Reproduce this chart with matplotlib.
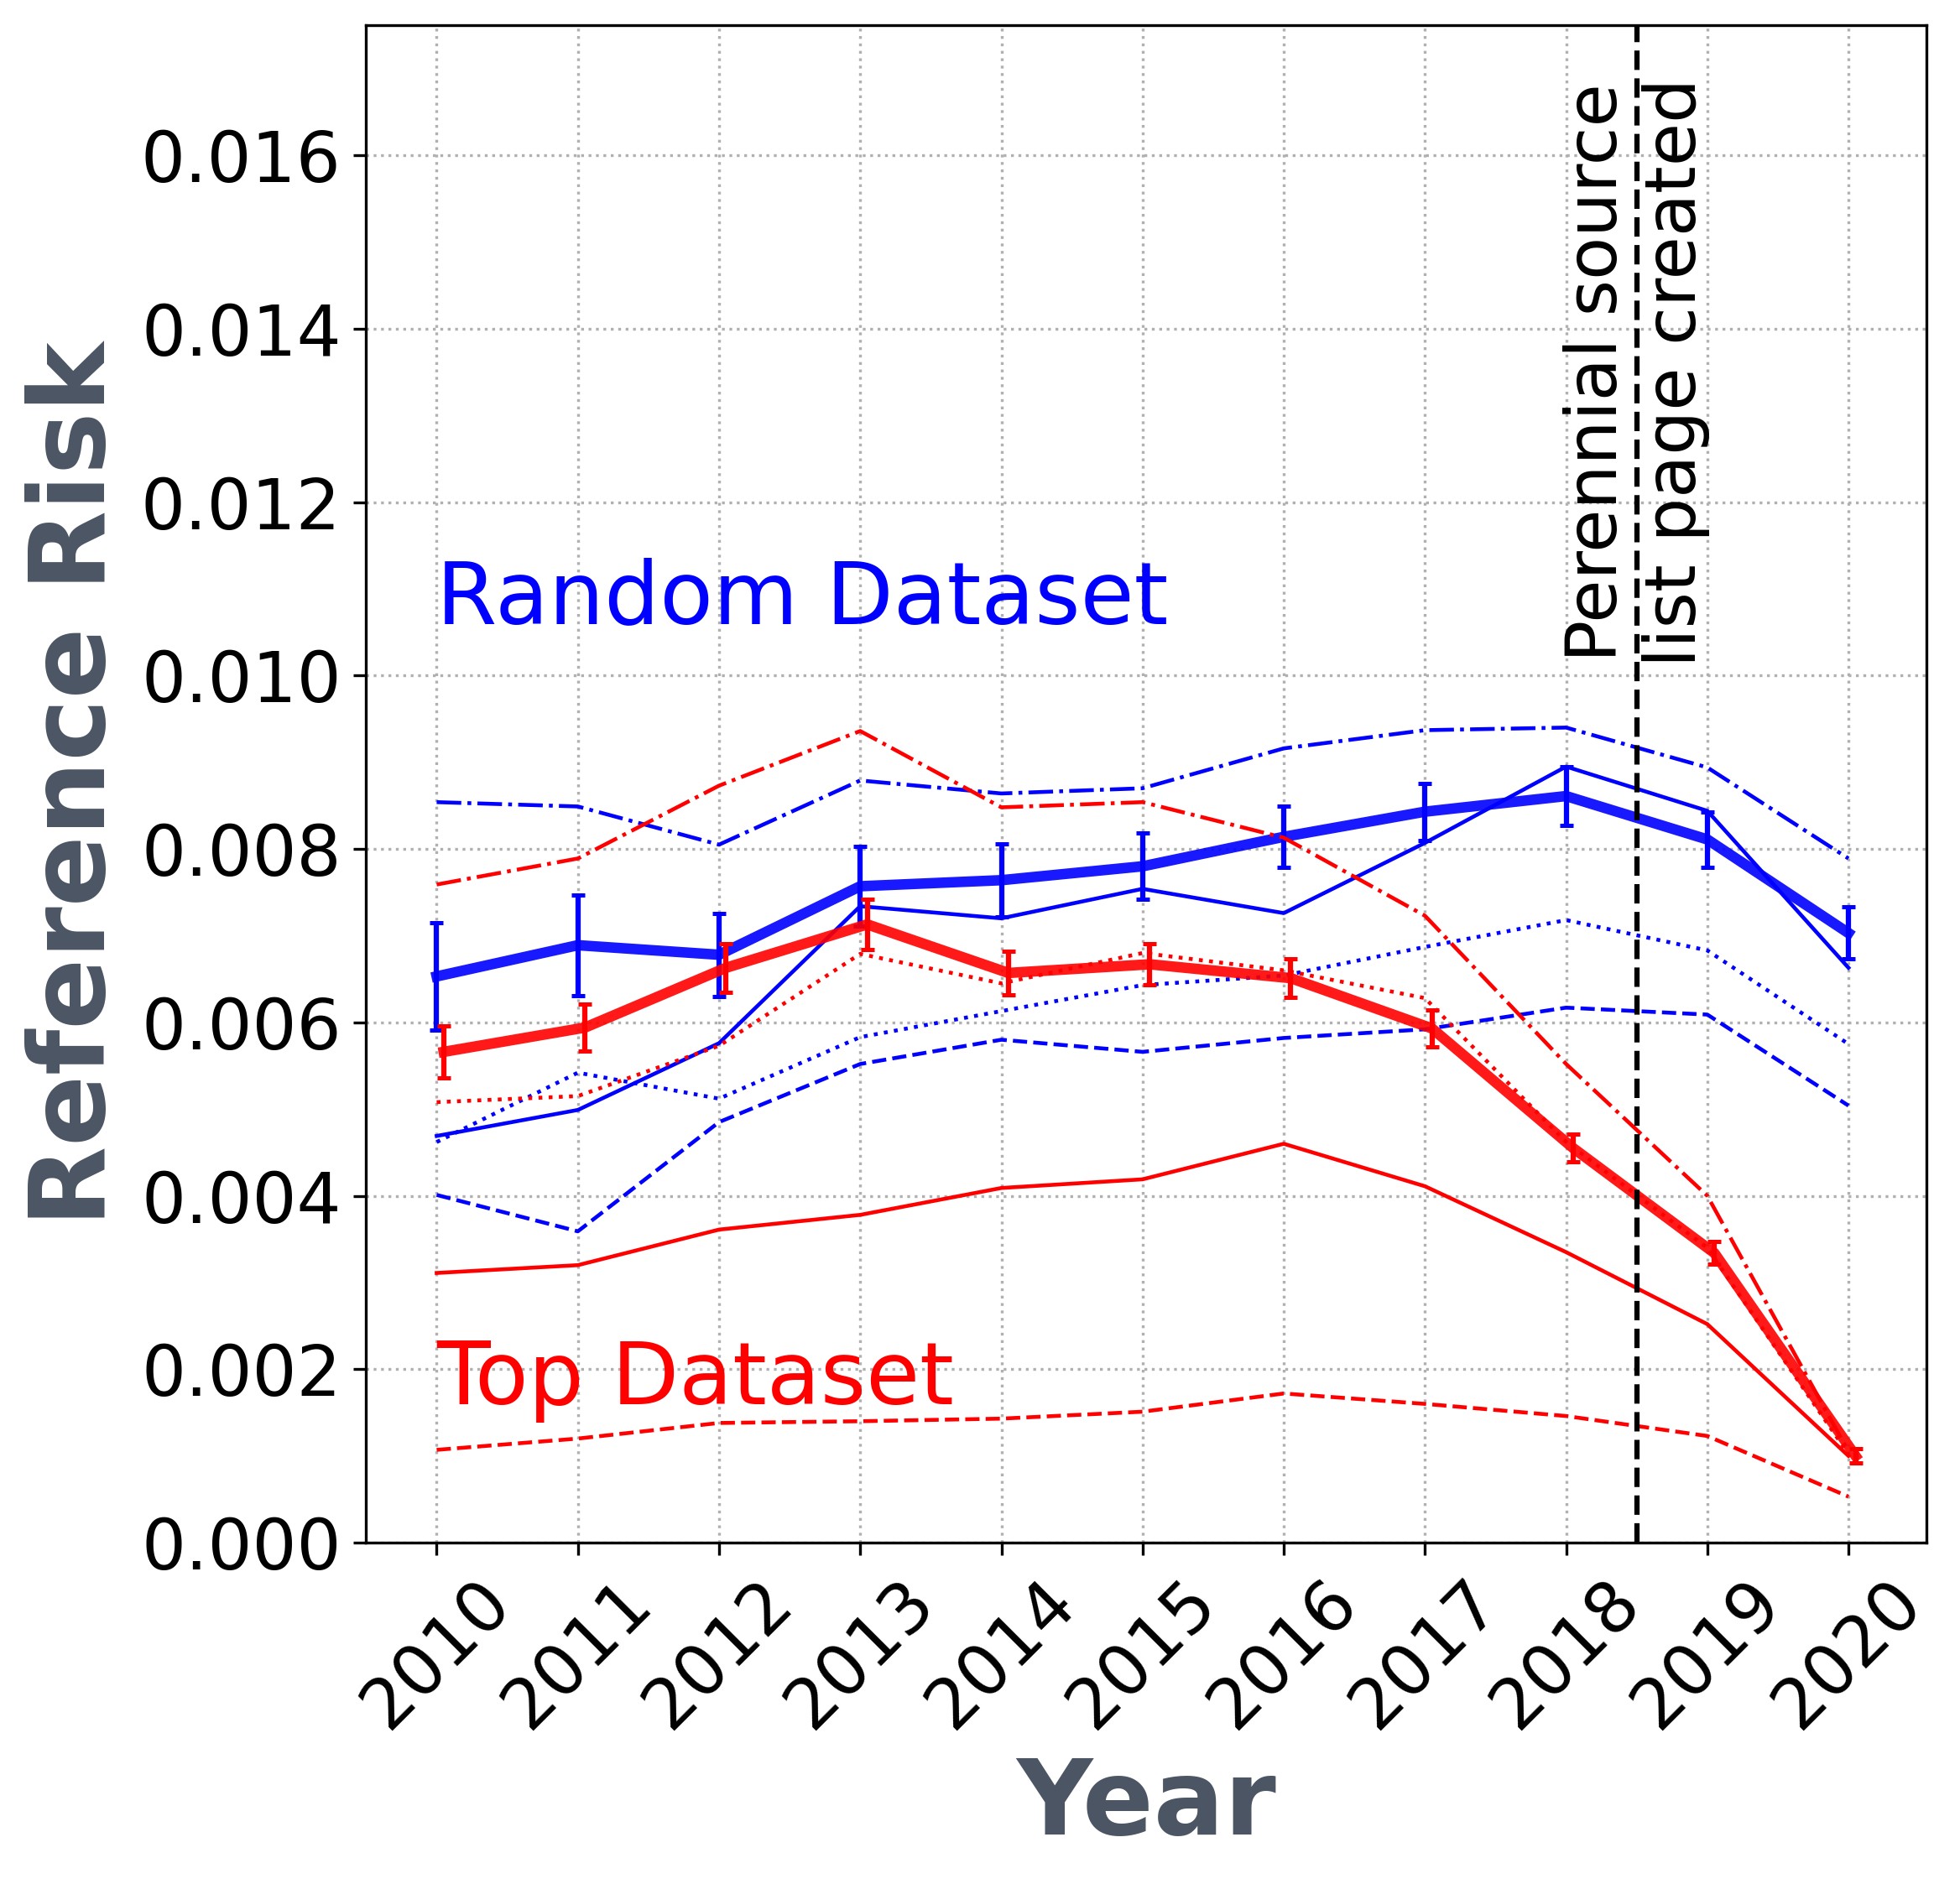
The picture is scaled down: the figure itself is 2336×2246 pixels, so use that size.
import numpy as np
import matplotlib.pyplot as plt

years = np.arange(2010, 2021)

# Random dataset: mean with error bars plus four sub-series
random_mean = [0.00653, 0.00689, 0.00678, 0.00757, 0.00764, 0.00780, 0.00814, 0.00843, 0.00861, 0.00811, 0.00703]
random_err = [0.00062, 0.00058, 0.00048, 0.00046, 0.00042, 0.00038, 0.00035, 0.00033, 0.00034, 0.00032, 0.00030]
random_solid = [0.00469, 0.00499, 0.00576, 0.00734, 0.00720, 0.00754, 0.00726, 0.00807, 0.00895, 0.00844, 0.00663]
random_dashed = [0.00401, 0.00359, 0.00485, 0.00552, 0.00580, 0.00566, 0.00582, 0.00592, 0.00617, 0.00609, 0.00504]
random_dashdot = [0.00854, 0.00849, 0.00805, 0.00879, 0.00864, 0.00870, 0.00916, 0.00937, 0.00940, 0.00894, 0.00789]
random_dotted = [0.00462, 0.00542, 0.00512, 0.00583, 0.00613, 0.00643, 0.00654, 0.00687, 0.00718, 0.00683, 0.00575]

# Top dataset
top_mean = [0.00566, 0.00594, 0.00663, 0.00713, 0.00657, 0.00667, 0.00651, 0.00593, 0.00455, 0.00334, 0.00100]
top_err = [0.00030, 0.00027, 0.00028, 0.00029, 0.00025, 0.00024, 0.00022, 0.00021, 0.00016, 0.00013, 0.00008]
top_solid = [0.00311, 0.00320, 0.00361, 0.00378, 0.00409, 0.00419, 0.00460, 0.00411, 0.00335, 0.00252, 0.00100]
top_dashed = [0.00107, 0.00120, 0.00138, 0.00140, 0.00143, 0.00151, 0.00172, 0.00160, 0.00146, 0.00123, 0.00053]
top_dashdot = [0.00759, 0.00789, 0.00873, 0.00936, 0.00848, 0.00854, 0.00813, 0.00723, 0.00552, 0.00400, 0.00105]
top_dotted = [0.00508, 0.00515, 0.00573, 0.00679, 0.00645, 0.00680, 0.00660, 0.00628, 0.00462, 0.00340, 0.00102]

event_year = 2018.5
label_color = "#4b5563"


def draw_dataset(ax, x, mean, err, lines, color):
    ax.plot(x, mean, color=color, lw=3, alpha=0.9)
    ax.errorbar(x, mean, yerr=err, fmt="none", ecolor=color, elinewidth=1.5,
                capsize=2, capthick=1.2)
    for values, style in lines:
        ax.plot(years, values, color=color, lw=1.1, linestyle=style)


def main() -> None:
    fig = plt.figure(figsize=(2336 / 300, 2246 / 300), dpi=300)
    ax = fig.add_axes([0.1866, 0.1812, 0.9829 - 0.1866, 0.9866 - 0.1812])

    draw_dataset(ax, years, random_mean, random_err,
                 [(random_solid, "-"), (random_dashed, "--"),
                  (random_dashdot, "-."), (random_dotted, ":")], "blue")
    draw_dataset(ax, years + 0.05, top_mean, top_err,
                 [(top_solid, "-"), (top_dashed, "--"),
                  (top_dashdot, "-."), (top_dotted, ":")], "red")

    ax.axvline(event_year, color="black", linestyle="--", lw=1.5)
    ax.text(event_year, 0.0101, "Perennial source\nlist page created",
            rotation=90, ha="center", va="bottom", fontsize=20)
    ax.text(2010, 0.0106, "Random Dataset", color="blue", fontsize=25)
    ax.text(2010, 0.0016, "Top Dataset", color="red", fontsize=25)

    ax.set_ylim(0, 0.0175)
    ax.set_xticks(years)
    ax.tick_params(axis="both", labelsize=20)
    plt.setp(ax.get_xticklabels(), rotation=45)
    ax.grid(linestyle=":")
    ax.set_xlabel("Year", fontsize=30, fontweight="bold", color=label_color)
    ax.set_ylabel("Reference Risk", fontsize=30, fontweight="bold", color=label_color)

    fig.savefig("out.png", dpi=300)


if __name__ == "__main__":
    main()
